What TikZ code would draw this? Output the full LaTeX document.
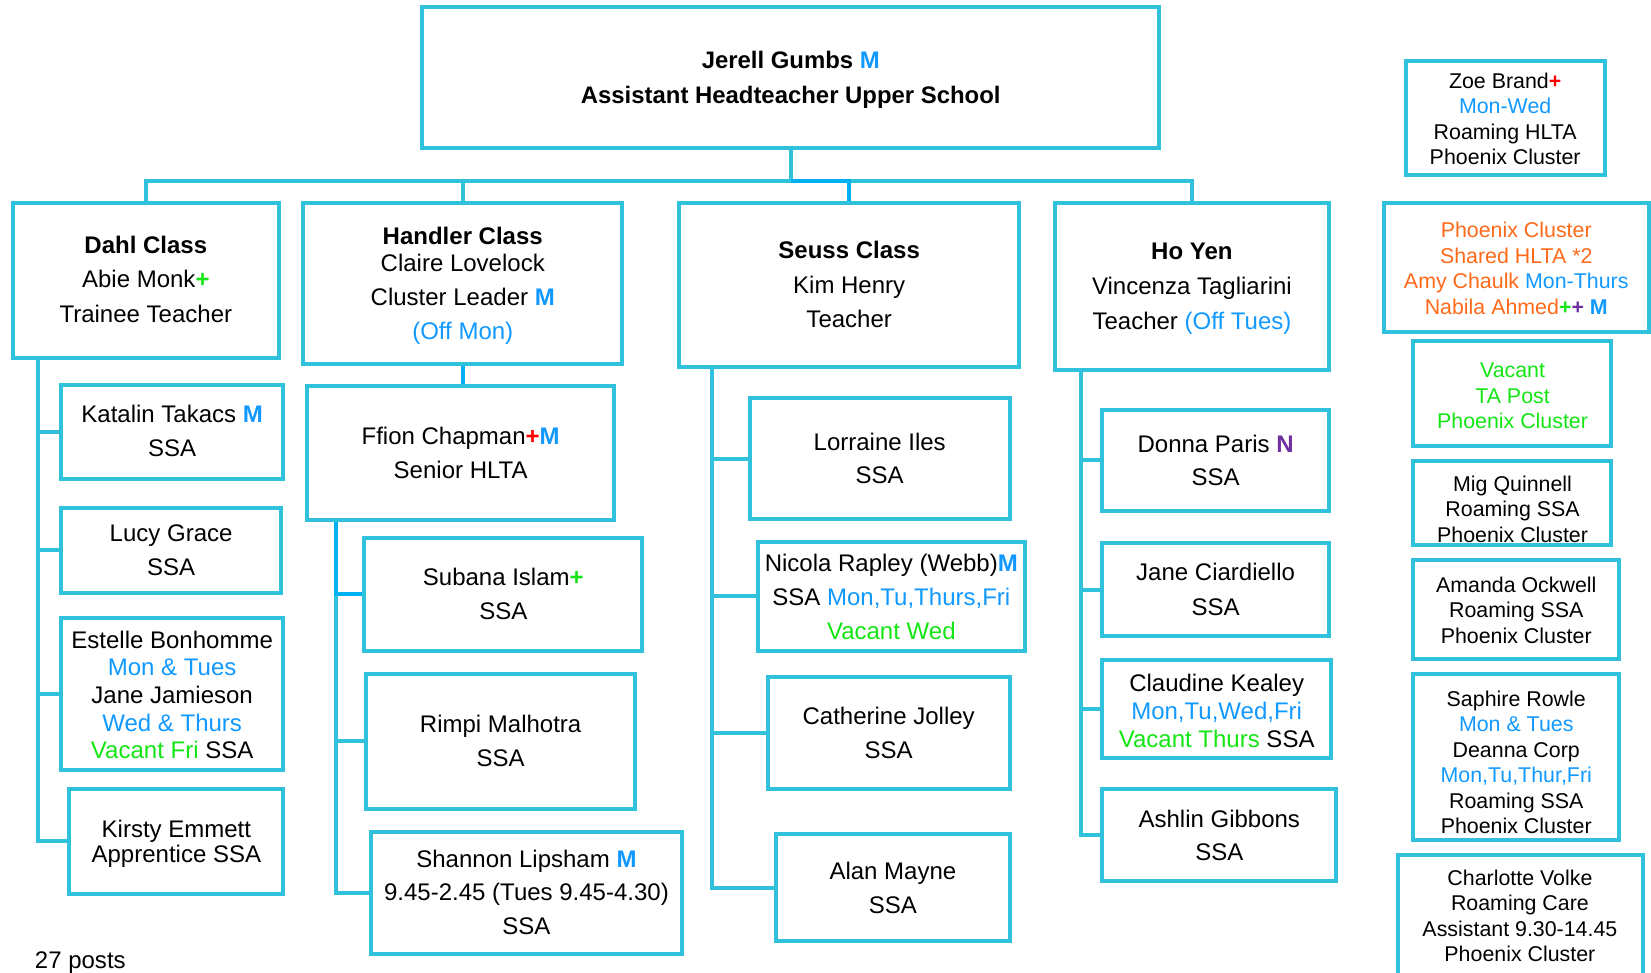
\documentclass[tikz,border=0pt]{standalone}
\usepackage{fontspec}
\setmainfont{Liberation Sans}
\usetikzlibrary{fit,calc}
\definecolor{boxc}{RGB}{48,194,221}
\definecolor{darkc}{RGB}{0,176,240}
\definecolor{mblue}{RGB}{17,153,255}
\definecolor{mgreen}{RGB}{20,230,20}
\definecolor{pred}{RGB}{255,0,0}
\definecolor{ppurple}{RGB}{112,48,160}
\definecolor{orng}{RGB}{255,106,26}
\newcommand{\btxt}[1]{\begin{tabular}[t]{@{}c@{}}#1\end{tabular}}
\newcommand{\markM}{\textcolor{mblue}{\textbf{M}}}
\newcommand{\plusR}{\textcolor{pred}{\textbf{+}}}
\newcommand{\plusG}{\textcolor{mgreen}{\textbf{+}}}
\newcommand{\plusP}{\textcolor{ppurple}{\textbf{+}}}
\newcommand{\bl}[1]{\textcolor{mblue}{#1}}
\newcommand{\gr}[1]{\textcolor{mgreen}{#1}}
\newcommand{\orn}[1]{\textcolor{orng}{#1}}
\begin{document}
\begin{tikzpicture}[x=1pt,y=-1pt,
  pbox/.style={draw=boxc, line width=3.8pt, fill=white, inner sep=0pt, rectangle},
  conn/.style={draw=boxc, line width=3.8pt},
  conn2/.style={draw=darkc, line width=3.8pt},
  txt/.style={anchor=base, inner sep=0pt, font=\fontsize{22.8}{32}\selectfont},
  rtxt/.style={anchor=base, inner sep=0pt, font=\fontsize{20.3}{24.3}\selectfont}]
\clip (0,0) rectangle (1568,924);
\fill[white] (0,0) rectangle (1568,924);

% ---------- boxes ----------
\node[pbox, fit={(401,7) (1101,141)}] (top) {};
\node[pbox, fit={(12,193) (265,340)}] (dahl) {};
\node[pbox, fit={(288,193) (591,346)}] (handler) {};
\node[pbox, fit={(645,193) (968,349)}] (seuss) {};
\node[pbox, fit={(1002,193) (1262,351)}] (hoyen) {};

\node[pbox, fit={(58,366) (269,455)}] (katalin) {};
\node[pbox, fit={(58,482) (267,563)}] (lucy) {};
\node[pbox, fit={(58,587) (269,731)}] (estelle) {};
\node[pbox, fit={(66,749) (269,849)}] (kirsty) {};

\node[pbox, fit={(292,367) (583,494)}] (ffion) {};
\node[pbox, fit={(346,511) (610,618)}] (subana) {};
\node[pbox, fit={(348,640) (603,768)}] (rimpi) {};
\node[pbox, fit={(352,790) (648,906)}] (shannon) {};

\node[pbox, fit={(712,378) (959,493)}] (lorraine) {};
\node[pbox, fit={(720,515) (973,618)}] (nicola) {};
\node[pbox, fit={(729,643) (959,749)}] (catherine) {};
\node[pbox, fit={(737,792) (959,894)}] (alan) {};

\node[pbox, fit={(1047,389) (1262,485)}] (donna) {};
\node[pbox, fit={(1047,516) (1262,604)}] (jane) {};
\node[pbox, fit={(1047,627) (1264,720)}] (claudine) {};
\node[pbox, fit={(1047,749) (1269,837)}] (ashlin) {};

\node[pbox, fit={(1335,58) (1524,166)}] (zoe) {};
\node[pbox, fit={(1314,193) (1566,315)}] (shared) {};
\node[pbox, fit={(1342,324) (1530,424)}] (vacant) {};
\node[pbox, fit={(1342,438) (1530,518)}] (mig) {};
\node[pbox, fit={(1342,532) (1538,626)}] (amanda) {};
\node[pbox, fit={(1342,640) (1538,798)}] (saphire) {};
\node[pbox, fit={(1328,812) (1560,945)}] (charlotte) {};

% ---------- connectors ----------
\coordinate (busy) at (0,172);
\draw[conn] (dahl.north) -- (dahl.north |- busy) -- (hoyen.north |- busy) -- (hoyen.north);
\draw[conn] (handler.north |- busy) -- (handler.north);
\draw[conn] (top.south) -- (top.south |- busy);
\draw[conn2] (top.south |- busy) -- (seuss.north |- busy) -- (seuss.north);
\draw[conn2] (handler.south) -- (ffion.north -| handler.south);

\coordinate (dahlv) at ($(dahl.south west)+(26,0)$);
\draw[conn] (dahlv) |- (kirsty.west);
\draw[conn] (katalin.west) -- (katalin.west -| dahlv);
\draw[conn] (lucy.west) -- (lucy.west -| dahlv);
\draw[conn] (estelle.west) -- (estelle.west -| dahlv);

\coordinate (ffionv) at ($(ffion.south west)+(29,0)$);
\draw[conn] (subana.west -| ffionv) |- (shannon.west);
\draw[conn] (rimpi.west) -- (rimpi.west -| ffionv);
\draw[conn2] (ffionv) |- (subana.west);

\coordinate (seussv) at ($(seuss.south west)+(33,0)$);
\draw[conn] (seussv) |- (alan.west);
\draw[conn] (lorraine.west) -- (lorraine.west -| seussv);
\draw[conn] (nicola.west) -- (nicola.west -| seussv);
\draw[conn] (catherine.west) -- (catherine.west -| seussv);

\coordinate (hoyenv) at ($(hoyen.south west)+(27,0)$);
\draw[conn] (hoyenv) |- (ashlin.west);
\draw[conn] (donna.west) -- (donna.west -| hoyenv);
\draw[conn] (jane.west) -- (jane.west -| hoyenv);
\draw[conn] (claudine.west) -- (claudine.west -| hoyenv);

% ---------- texts ----------
\node[txt, font=\fontsize{22.7}{33}\selectfont] (top-t) at (751,65.5) {\btxt{\textbf{Jerell Gumbs \markM}\\ \textbf{Assistant Headteacher Upper School}}};
\node[txt, font=\fontsize{22.8}{33}\selectfont] (dahl-t) at (138.5,240.5) {\btxt{\textbf{Dahl Class}\\ Abie Monk\plusG\\ Trainee Teacher}};
\node[txt, font=\fontsize{22.8}{32.5}\selectfont] (handler-t) at (439.5,232.5) {\btxt{\textbf{Handler Class}\\[-7.5pt] Claire Lovelock\\ Cluster Leader \markM\\ \bl{(Off Mon)}}};
\node[txt, font=\fontsize{22.8}{33}\selectfont] (seuss-t) at (806.5,245.5) {\btxt{\textbf{Seuss Class}\\ Kim Henry\\ Teacher}};
\node[txt, font=\fontsize{22.8}{33}\selectfont] (hoyen-t) at (1132,246.5) {\btxt{\textbf{Ho Yen}\\ Vincenza Tagliarini\\ Teacher \bl{(Off Tues)}}};

\node[txt] (katalin-t) at (163.5,401.5) {\btxt{Katalin Takacs \markM\\ SSA}};
\node[txt] (lucy-t) at (162.5,514.5) {\btxt{Lucy Grace\\ SSA}};
\node[txt, font=\fontsize{22.8}{26.25}\selectfont] (estelle-t) at (163.5,615.5) {\btxt{Estelle Bonhomme\\ \bl{Mon \& Tues}\\ Jane Jamieson\\ \bl{Wed \& Thurs}\\ \gr{Vacant Fri} SSA}};
\node[txt, font=\fontsize{22.8}{23}\selectfont] (kirsty-t) at (167.5,795.5) {\btxt{Kirsty Emmett\\ Apprentice SSA}};

\node[txt] (ffion-t) at (437.5,422.5) {\btxt{Ffion Chapman\plusR\markM\\ Senior HLTA}};
\node[txt] (subana-t) at (478,556.5) {\btxt{Subana Islam\plusG\\ SSA}};
\node[txt] (rimpi-t) at (475.5,695.5) {\btxt{Rimpi Malhotra\\ SSA}};
\node[txt] (shannon-t) at (500,823.5) {\btxt{Shannon Lipsham \markM\\ 9.45-2.45 (Tues 9.45-4.30)\\ SSA}};

\node[txt] (lorraine-t) at (835.5,427.5) {\btxt{Lorraine Iles\\ SSA}};
\node[txt, font=\fontsize{22.8}{32.5}\selectfont] (nicola-t) at (846.5,542.5) {\btxt{Nicola Rapley (Webb)\markM\\ SSA \bl{Mon,Tu,Thurs,Fri}\\ \gr{Vacant Wed}}};
\node[txt] (catherine-t) at (844,688.5) {\btxt{Catherine Jolley\\ SSA}};
\node[txt] (alan-t) at (848,835.5) {\btxt{Alan Mayne\\ SSA}};

\node[txt] (donna-t) at (1154.5,429.5) {\btxt{Donna Paris \textcolor{ppurple}{\textbf{N}}\\ SSA}};
\node[txt, font=\fontsize{22.8}{33}\selectfont] (jane-t) at (1154.5,551.5) {\btxt{Jane Ciardiello\\ SSA}};
\node[txt, font=\fontsize{22.8}{26.5}\selectfont] (claudine-t) at (1155.5,656.5) {\btxt{Claudine Kealey\\ \bl{Mon,Tu,Wed,Fri}\\ \gr{Vacant Thurs} SSA}};
\node[txt] (ashlin-t) at (1158,785.5) {\btxt{Ashlin Gibbons\\ SSA}};

\node[rtxt] (zoe-t) at (1429.5,83.8) {\btxt{Zoe Brand\plusR\\ \bl{Mon-Wed}\\ Roaming HLTA\\ Phoenix Cluster}};
\node[rtxt] (shared-t) at (1440,225.5) {\btxt{\orn{Phoenix Cluster}\\ \orn{Shared HLTA *2}\\ \orn{Amy Chaulk} \bl{Mon-Thurs}\\ \orn{Nabila Ahmed}\plusG\plusP\ \markM}};
\node[rtxt] (vacant-t) at (1436.5,358.5) {\btxt{\gr{Vacant}\\ \gr{TA Post}\\ \gr{Phoenix Cluster}}};
\node[rtxt] (mig-t) at (1436.5,466.5) {\btxt{Mig Quinnell\\ Roaming SSA\\ Phoenix Cluster}};
\node[rtxt] (amanda-t) at (1440,562.5) {\btxt{Amanda Ockwell\\ Roaming SSA\\ Phoenix Cluster}};
\node[rtxt] (saphire-t) at (1440,670.5) {\btxt{Saphire Rowle\\ \bl{Mon \& Tues}\\ Deanna Corp\\ \bl{Mon,Tu,Thur,Fri}\\ Roaming SSA\\ Phoenix Cluster}};
\node[rtxt] (charlotte-t) at (1443.5,840.5) {\btxt{Charlotte Volke\\ Roaming Care\\ Assistant 9.30-14.45\\ Phoenix Cluster}};

\node[txt, anchor=base west] (posts) at (33,920) {27 posts};
\end{tikzpicture}
\end{document}
